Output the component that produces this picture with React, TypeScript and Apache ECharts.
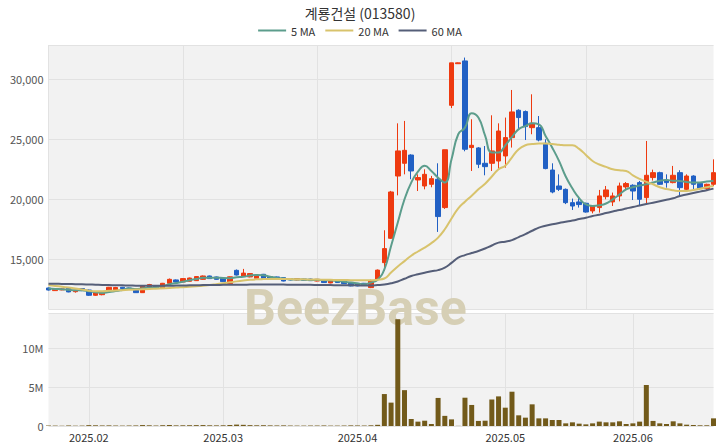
import React, { useEffect, useRef } from "react";
import * as echarts from "echarts";

const TITLE = "계룡건설 (013580)";

const MONTH_DAYS: [string, number[]][] = [
  ["2025.01", [20, 21, 22, 23, 24, 31]],
  ["2025.02", [3, 4, 5, 6, 7, 10, 11, 12, 13, 14, 17, 18, 19, 20, 21, 24, 25, 26, 27, 28]],
  ["2025.03", [4, 5, 6, 7, 10, 11, 12, 13, 14, 17, 18, 19, 20, 21, 24, 25, 26, 27, 28, 31]],
  ["2025.04", [1, 2, 3, 4, 7, 8, 9, 10, 11, 14, 15, 16, 17, 18, 21, 22, 23, 24, 25, 28, 29, 30]],
  ["2025.05", [2, 7, 8, 9, 12, 13, 14, 15, 16, 19, 20, 21, 22, 23, 26, 27, 28, 29, 30]],
  ["2025.06", [2, 4, 5, 9, 10, 11, 12, 13, 16, 17, 18, 19, 20]],
];

// [open, close, low, high]
const OHLC: number[][] = [
  [12610, 12440, 12400, 12650], [12390, 12500, 12360, 12530], [12450, 12530, 12420, 12580], [12610, 12280, 12250, 12650],
  [12300, 12420, 12220, 12450], [12560, 12390, 12350, 12600], [12440, 12000, 11950, 12480], [12000, 12220, 11950, 12250],
  [12050, 12200, 12000, 12250], [12390, 12670, 12350, 12700], [12450, 12650, 12400, 12700], [12670, 12560, 12530, 12700],
  [12610, 12500, 12470, 12640], [12440, 12220, 12200, 12480], [12220, 12780, 12200, 12800], [12670, 12890, 12640, 12950],
  [12780, 12610, 12580, 12820], [12560, 13000, 12540, 13030], [13000, 13330, 12980, 13400], [13280, 13110, 13080, 13320],
  [13110, 13390, 13090, 13420], [13170, 13440, 13150, 13470], [13220, 13560, 13200, 13590], [13330, 13610, 13300, 13650],
  [13610, 13390, 13360, 13640], [13530, 13330, 13300, 13560], [13420, 13140, 13110, 13450], [12980, 13540, 12960, 13570],
  [14080, 13690, 13650, 14150], [13580, 13850, 13550, 14200], [13530, 13810, 13500, 13840], [13420, 13610, 13400, 13640],
  [13750, 13420, 13390, 13780], [13530, 13330, 13300, 13560], [13530, 13360, 13330, 13560], [13470, 13190, 13160, 13500],
  [13390, 13280, 13250, 13420], [13280, 13390, 13250, 13420], [13360, 13250, 13220, 13390], [13360, 13220, 13190, 13390],
  [13190, 13330, 13160, 13360], [13250, 13060, 13030, 13280], [13030, 13190, 13000, 13220], [13190, 13060, 13030, 13220],
  [13190, 12970, 12940, 13220], [13080, 12780, 12750, 13110], [13000, 12780, 12750, 13030], [13000, 12830, 12800, 13030],
  [12640, 13200, 12600, 13300], [13330, 14100, 13300, 14150], [14720, 15890, 14030, 17420], [16750, 20610, 16700, 20700],
  [21940, 24030, 20330, 26330], [23000, 24080, 22080, 26530], [23690, 22360, 21670, 23750], [21610, 21810, 20690, 22080],
  [21110, 22080, 20830, 22500], [21250, 21720, 21000, 21950], [21670, 18560, 17280, 23000], [19310, 24130, 19200, 24130],
  [27830, 31370, 27600, 31370], [31300, 31370, 31300, 31400], [31530, 24170, 24000, 31810], [24310, 24500, 22360, 26670],
  [24280, 22920, 22600, 24350], [23000, 22720, 22000, 24440], [23000, 24030, 22360, 27000], [23190, 25690, 22500, 26330],
  [23610, 25140, 22640, 26810], [25140, 27280, 24310, 29110], [27420, 26810, 25830, 27500], [27310, 26060, 24940, 27400],
  [25970, 26330, 25420, 28750], [25970, 24940, 24830, 26940], [24670, 22560, 22500, 25000], [22440, 20610, 20500, 23000],
  [21110, 20830, 20690, 22080], [20830, 19720, 19600, 20900], [19720, 19440, 19110, 20060], [19780, 19560, 19310, 20220],
  [19670, 18940, 18890, 19720], [19030, 19440, 18830, 19500], [19310, 20280, 18890, 20780], [20220, 20780, 20000, 21110],
  [19780, 20280, 19440, 20560], [20280, 21110, 19830, 21390], [21030, 21310, 20780, 21440], [21170, 20690, 19940, 21250],
  [21390, 20000, 19440, 21530], [20140, 22000, 19670, 24860], [21810, 22220, 21560, 22470], [22220, 21250, 21200, 22300],
  [21610, 21390, 20970, 22080], [21390, 22000, 21330, 22780], [22220, 20970, 20280, 22420], [20830, 21940, 20750, 22080],
  [21940, 21250, 20830, 22000], [21330, 20890, 20800, 21400], [20890, 21250, 20690, 21300], [21250, 22220, 21110, 23330],
];

const VOLUME: number[] = [
  60000, 50000, 45000, 70000, 40000, 50000, 110000, 90000, 70000, 80000,
  60000, 50000, 50000, 70000, 120000, 90000, 60000, 100000, 130000, 80000,
  90000, 100000, 110000, 120000, 90000, 80000, 90000, 130000, 180000, 150000,
  110000, 90000, 100000, 80000, 70000, 80000, 60000, 50000, 50000, 60000,
  60000, 70000, 50000, 50000, 60000, 80000, 70000, 60000, 90000, 150000,
  4100000, 3000000, 13700000, 4600000, 900000, 560000, 680000, 260000, 3600000, 1300000,
  850000, 20000, 3630000, 2700000, 650000, 680000, 3400000, 3800000, 2350000, 4400000,
  1370000, 1070000, 2780000, 980000, 980000, 770000, 770000, 340000, 470000, 300000,
  210000, 340000, 560000, 470000, 470000, 600000, 260000, 340000, 560000, 5260000,
  650000, 340000, 260000, 600000, 340000, 170000, 130000, 90000, 90000, 980000,
];

const MA5: number[] = [
  12560, 12530, 12500, 12460, 12430, 12420, 12330, 12260, 12200, 12270,
  12350, 12450, 12560, 12520, 12580, 12640, 12680, 12780, 12920, 13020,
  13130, 13260, 13350, 13460, 13470, 13470, 13440, 13430, 13510, 13540,
  13650, 13700, 13670, 13550, 13450, 13390, 13320, 13310, 13300, 13280,
  13290, 13260, 13240, 13200, 13120, 13060, 12990, 12920, 13060, 13300,
  14170, 16100, 18060, 20000, 21390, 22300, 22800, 22360, 21800, 21390,
  23330, 25420, 25970, 27170, 26810, 25300, 23890, 23900, 24500, 25200,
  25850, 26100, 26330, 26250, 25280, 24300, 23200, 21900, 20900, 20100,
  19580, 19450, 19500, 19650, 20000, 20400, 20830, 21000, 21150, 21250,
  21400, 21550, 21600, 21550, 21530, 21450, 21390, 21400, 21480, 21550,
];

const MA20: number[] = [
  12830, 12780, 12720, 12650, 12570, 12480, 12380, 12340, 12340, 12370,
  12400, 12430, 12460, 12480, 12500, 12520, 12550, 12580, 12610, 12640,
  12680, 12720, 12760, 12800, 12860, 12930, 13000, 13080, 13160, 13230,
  13290, 13330, 13350, 13360, 13360, 13360, 13350, 13340, 13330, 13320,
  13310, 13300, 13290, 13280, 13270, 13260, 13250, 13250, 13250, 13300,
  13400, 13900, 14400, 14850, 15300, 15650, 15980, 16350, 16810, 17500,
  18400, 19250, 19800, 20300, 20830, 21300, 21900, 22500, 22800, 23500,
  24170, 24500, 24600, 24640, 24640, 24600, 24550, 24500, 24500, 24200,
  23700, 23190, 22900, 22700, 22500, 22420, 22360, 22000, 21700, 21450,
  21250, 21000, 20850, 20750, 20690, 20700, 20780, 20880, 21000, 21100,
];

const MA60: number[] = [
  12970, 12960, 12950, 12940, 12930, 12920, 12900, 12880, 12860, 12850,
  12840, 12830, 12820, 12800, 12790, 12790, 12790, 12800, 12800, 12810,
  12820, 12830, 12840, 12850, 12860, 12860, 12870, 12870, 12880, 12880,
  12890, 12890, 12890, 12890, 12890, 12890, 12880, 12880, 12870, 12870,
  12860, 12850, 12850, 12840, 12840, 12830, 12830, 12820, 12820, 12850,
  12900, 13000, 13150, 13380, 13610, 13750, 13880, 14000, 14100, 14310,
  14700, 15140, 15350, 15520, 15690, 15900, 16150, 16390, 16470, 16600,
  16850, 17100, 17380, 17640, 17800, 17920, 18030, 18130, 18230, 18350,
  18470, 18600, 18720, 18850, 18980, 19100, 19230, 19360, 19480, 19600,
  19720, 19840, 19960, 20080, 20280, 20400, 20520, 20640, 20760, 20890,
];

const DATES: string[] = [];
const MONTH_START = new Set<number>();
MONTH_DAYS.forEach(([m, days], mi) => {
  days.forEach((d, di) => {
    if (mi > 0 && di === 0) MONTH_START.add(DATES.length);
    DATES.push(`${m}.${String(d).padStart(2, "0")}`);
  });
});

const FONT = "'Noto Sans CJK KR', 'Noto Sans', sans-serif";
const UP = "#ee3a10";
const DOWN = "#2160c4";
const C5 = "#5c9d8c";
const C20 = "#d8c36c";
const C60 = "#555e78";

export default function App() {
  const ref = useRef<HTMLDivElement>(null);
  useEffect(() => {
    document.body.style.margin = "0";
    const chart = echarts.init(ref.current!, null, { renderer: "svg" });
    const isMonth = (idx: number) => MONTH_START.has(idx);
    chart.setOption({
      animation: false,
      backgroundColor: "#ffffff",
      textStyle: { fontFamily: FONT },
      title: {
        text: TITLE,
        left: "center",
        top: 1,
        textStyle: { fontSize: 14, fontWeight: "normal", color: "#333", fontFamily: FONT },
      },
      legend: {
        data: [
          { name: "5 MA", icon: "rect" },
          { name: "20 MA", icon: "rect" },
          { name: "60 MA", icon: "rect" },
        ],
        top: 20,
        left: "center",
        itemWidth: 28,
        itemHeight: 2,
        itemGap: 10,
        textStyle: { fontSize: 11, color: "#333", fontFamily: FONT },
      },
      graphic: [
        {
          type: "text",
          left: 244,
          top: 283,
          z: 1,
          style: {
            text: "BeezBase",
            font: "bold 50px Roboto, 'Noto Sans', sans-serif",
            fill: "#d6cfb5",
          },
        },
      ],
      grid: [
        { left: 48.5, right: 6.5, top: 45, bottom: 138.7, show: true, backgroundColor: "#f2f2f2", borderWidth: 0 },
        { left: 48.5, right: 6.5, top: 313, bottom: 22, show: true, backgroundColor: "#f2f2f2", borderWidth: 0 },
      ],
      xAxis: [
        {
          type: "category",
          gridIndex: 0,
          data: DATES,
          boundaryGap: false,
          axisLine: { show: false },
          axisTick: { show: false },
          axisLabel: { show: false, interval: 19 },
          splitLine: { show: true, interval: 19, lineStyle: { color: "#e2e2e2" } },
        },
        {
          type: "category",
          gridIndex: 1,
          data: DATES,
          boundaryGap: false,
          axisLine: { show: false },
          axisTick: { show: false },
          axisLabel: {
            interval: (idx: number) => isMonth(idx),
            formatter: (v: string) => v.slice(0, 7),
            fontSize: 11,
            color: "#333",
            margin: 5,
          },
          splitLine: { show: true, interval: (idx: number) => isMonth(idx), lineStyle: { color: "#e2e2e2" } },
        },
      ],
      yAxis: [
        {
          type: "value",
          gridIndex: 0,
          min: 10833,
          max: 32858,
          axisLine: { show: false },
          axisTick: { show: false },
          axisLabel: {
            showMinLabel: false,
            showMaxLabel: false,
            fontSize: 11,
            color: "#555",
            margin: 5,
            formatter: (v: number) => v.toLocaleString("en-US"),
          },
          splitLine: { lineStyle: { color: "#e2e2e2" } },
        },
        {
          type: "value",
          gridIndex: 1,
          min: 0,
          max: 14500000,
          interval: 5000000,
          axisLine: { show: false },
          axisTick: { show: false },
          axisLabel: {
            showMaxLabel: false,
            fontSize: 11,
            color: "#555",
            margin: 5,
            formatter: (v: number) => (v === 0 ? "0" : `${v / 1000000}M`),
          },
          splitLine: { lineStyle: { color: "#e2e2e2" } },
        },
      ],
      series: [
        {
          name: "price",
          type: "candlestick",
          xAxisIndex: 0,
          yAxisIndex: 0,
          data: OHLC,
          barWidth: 5,
          z: 3,
          itemStyle: { color: UP, color0: DOWN, borderColor: UP, borderColor0: DOWN, borderWidth: 1 },
        },
        {
          name: "5 MA",
          type: "line",
          data: MA5,
          symbol: "none",
          smooth: true,
          z: 4,
          lineStyle: { width: 2, color: C5 },
          itemStyle: { color: C5 },
        },
        {
          name: "20 MA",
          type: "line",
          data: MA20,
          symbol: "none",
          smooth: true,
          z: 4,
          lineStyle: { width: 2, color: C20 },
          itemStyle: { color: C20 },
        },
        {
          name: "60 MA",
          type: "line",
          data: MA60,
          symbol: "none",
          smooth: true,
          z: 4,
          lineStyle: { width: 2, color: C60 },
          itemStyle: { color: C60 },
        },
        {
          name: "volume",
          type: "bar",
          xAxisIndex: 1,
          yAxisIndex: 1,
          data: VOLUME,
          barWidth: 5,
          z: 3,
          itemStyle: { color: "#725a1a" },
        },
      ],
    });
    return () => chart.dispose();
  }, []);
  return <div ref={ref} style={{ position: "absolute", left: 0, top: 0, width: 720, height: 448 }} />;
}
